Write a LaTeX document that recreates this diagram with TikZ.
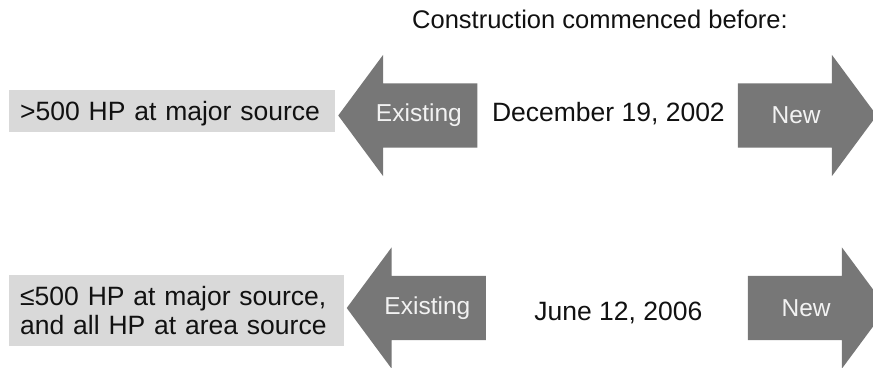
\documentclass[tikz,border=0pt]{standalone}
\usepackage{fontspec}
\setmainfont{Liberation Sans}
\usetikzlibrary{calc,shapes.arrows}
\definecolor{boxGrey}{RGB}{217,217,217}
\definecolor{arrowGrey}{RGB}{119,119,119}
\definecolor{arrowText}{RGB}{242,242,242}
\definecolor{inkBlack}{RGB}{17,17,17}
\newcommand{\rowtextfont}{\fontsize{26.5}{29.3}\selectfont}
\newcommand{\arrowtextfont}{\fontsize{24.5}{26}\selectfont}
\tikzset{
  critbox/.style={rectangle,fill=boxGrey,anchor=west,align=left,inner xsep=11pt,inner ysep=0pt,text=inkBlack,font=\rowtextfont},
  blockarrow/.style={single arrow,fill=arrowGrey,draw=none,inner xsep=0pt,inner ysep=32pt,minimum height=139pt,single arrow head extend=28.5pt,single arrow tip angle=107,anchor=tip},
  arrowword/.style={text=arrowText,font=\arrowtextfont},
  dateword/.style={text=inkBlack,font=\rowtextfont,anchor=base}
}

\begin{document}
\begin{tikzpicture}[x=1pt,y=-1pt]
\useasboundingbox (0,0) rectangle (873,367);
\clip (0,0) rectangle (873,367);
\node[dateword,font=\fontsize{25.5}{27}\selectfont] (title) at (600,28) {Construction commenced before:};
% engines over 500 HP
\node[critbox,text width=304pt,minimum height=41.7pt,text depth=0pt] (boxTop) at (9,110.8) {>500 HP at major source};
\node[blockarrow,shape border rotate=180] (oldTop) at (338,115.5) {};
\node[arrowword] (oldTopText) at ($(oldTop.tail)!0.42!(oldTop.tip)$) {Existing};
\node[dateword] (dateTop) at (608.4,121) {December 19, 2002};
\node[blockarrow] (newTop) at (877,115.5) {};
\node[arrowword] (newTopText) at ($(newTop.tail)!0.42!(newTop.tip)$) {New};
% the smaller ones, and area sources
\node[critbox,text width=313pt,minimum height=71pt] (boxBot) at (9,310.5) {≤500 HP at major source,\\and all HP at area source};
\node[blockarrow,shape border rotate=180] (oldBot) at (346.5,308) {};
\node[arrowword] (oldBotText) at ($(oldBot.tail)!0.42!(oldBot.tip)$) {Existing};
\node[dateword] (dateBot) at (618.3,320) {June 12, 2006};
\node[blockarrow] (newBot) at (887,308) {};
\node[arrowword] (newBotText) at ($(newBot.tail)!0.42!(newBot.tip)$) {New};
\end{tikzpicture}
\end{document}
